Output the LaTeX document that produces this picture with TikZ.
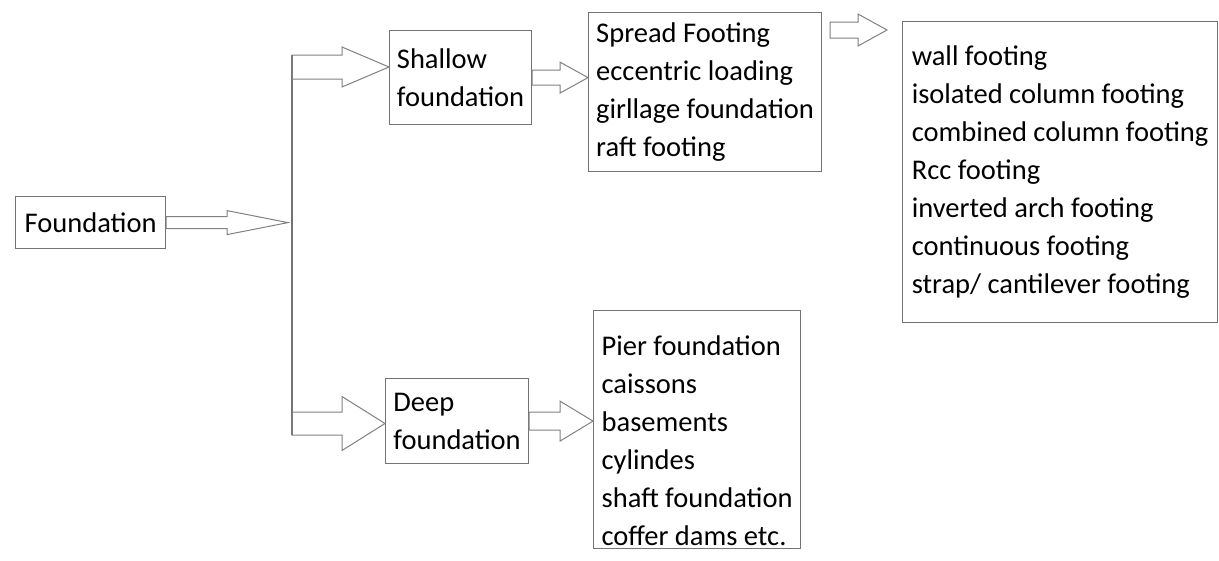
\documentclass[tikz,border=0pt]{standalone}
\usepackage{fontspec}
\setmainfont{Carlito}
\usetikzlibrary{calc}

\begin{document}
\begin{tikzpicture}[x=1pt, y=-1pt,
  box/.style={draw=black!55, line width=1.2pt, align=left, anchor=north west, inner sep=0pt, font=\fontsize{28.5}{38}\selectfont},
  fatarrow/.style n args={3}{draw=black!50, line width=1pt, to path={
      let \p1=(\tikztostart), \p2=(\tikztotarget) in
      (\x1,\y1+#1pt) -- (\x2-#3pt,\y1+#1pt) -- (\x2-#3pt,\y1+#2pt) -- (\x2,\y1)
      -- (\x2-#3pt,\y1-#2pt) -- (\x2-#3pt,\y1-#1pt) -- (\x1,\y1-#1pt) -- cycle}},
  trunk/.style={draw=black!55, line width=1.2pt}
]
\useasboundingbox (0,0) rectangle (1219,560);

% boxes
\node[box, minimum width=150pt, minimum height=52pt] (found) at (15,196) {Foundation};
\node[box, minimum width=142pt, minimum height=94pt] (shallow) at (389,30) {Shallow\\foundation};
\node[box, minimum width=143pt, minimum height=85pt] (deep) at (385,378) {Deep\\foundation};
\node[box, minimum width=233pt, minimum height=159pt] (spread) at (588,12)
  {Spread Footing\\eccentric loading\\girllage foundation\\raft footing};
\node[box, minimum width=315pt, minimum height=301pt] (footings) at (902,21)
  {wall footing\\isolated column footing\\combined column footing\\Rcc footing\\inverted arch footing\\continuous footing\\strap/ cantilever footing};
\node[box, minimum width=207pt, minimum height=238pt] (pier) at (593,310)
  {\rule{0pt}{42pt}Pier foundation\\caissons\\basements\\cylindes\\shaft foundation\\coffer dams etc.};

% trunk and free ends
\coordinate (ttop) at (292,55);
\coordinate (tbot) at (292,435);
\coordinate (tfound) at (288,222);
\coordinate (tshallow) at (292,67);
\coordinate (tdeep) at (292,423.5);
\coordinate (s2la) at (830,30);
\coordinate (s2lb) at (887,30);

\draw[trunk] (ttop) -- (tbot);
\draw[fatarrow={6}{12}{61}] (found.east) to (tfound);
\draw[fatarrow={12}{20}{47}] (tshallow) to (shallow.west);
\draw[fatarrow={11.5}{27}{43}] (tdeep) to (deep.west);
\draw[fatarrow={7.5}{15.5}{28}] (shallow.east) to (spread.west);
\draw[fatarrow={9}{20}{33}] (deep.east) to (pier.west);
\draw[fatarrow={8}{16}{29}] (s2la) to (s2lb);
\end{tikzpicture}
\end{document}
